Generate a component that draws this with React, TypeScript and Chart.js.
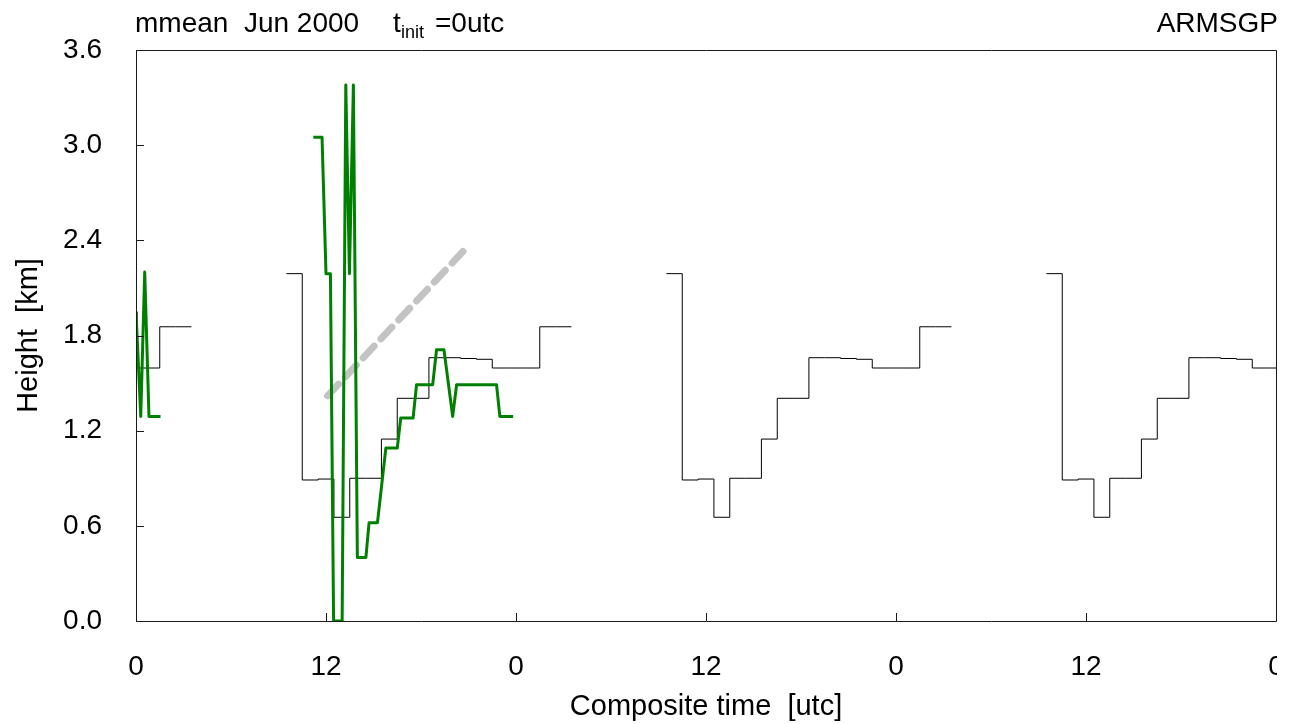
import React, { useEffect, useRef } from "react";
import { Chart, registerables } from "chart.js";

Chart.register(...registerables);

// ---- tick labels ----
const xTickHours = [0, 12, 24, 36, 48, 60, 72];
const xTickLabels = ["0", "12", "0", "12", "0", "12", "0"];
const yTicks = [0, 0.6, 1.2, 1.8, 2.4, 3.0, 3.6];

// ---- composite diurnal cycle (black step line), hour of composite -> height [km] ----
const cycleHours = [10, 11, 12, 13, 14, 15, 16, 17, 18, 19, 20, 21, 22, 23, 24, 25, 26, 27];
const compositeHeight = [
  2.19, 0.889, 0.895, 0.654, 0.9, 0.9, 1.147, 1.404, 1.404, 1.66, 1.66, 1.655, 1.65, 1.595,
  1.595, 1.595, 1.855, 1.855,
];
const cycleOffsets = [-24, 0, 24, 48];

// short opening segment of the black line at t = 0
const leadTimes = [0.05, 0.05];
const leadHeights = [1.95, 1.595];

// ---- model (green) ----
const greenEarlyTimes = [0, 0.3, 0.55, 0.82, 1.55];
const greenEarlyHeights = [1.95, 1.29, 2.2, 1.29, 1.29];

const greenTimes = [
  11.2, 11.75, 12.0, 12.28, 12.48, 13.02, 13.25, 13.48, 13.73, 13.98, 14.52, 14.72, 15.25,
  15.78, 16.5, 16.72, 17.5, 17.72, 18.74, 18.98, 19.45, 20.0, 20.25, 22.77, 22.98, 23.82,
];
const greenHeights = [
  3.05, 3.05, 2.19, 2.19, 0.0, 0.0, 3.38, 2.19, 3.38, 0.4, 0.4, 0.62, 0.62, 1.09, 1.09, 1.28,
  1.28, 1.49, 1.49, 1.71, 1.71, 1.29, 1.49, 1.49, 1.29, 1.29,
];

// ---- grey dashed trend ----
const trendTimes = [12.1, 20.65];
const trendHeights = [1.42, 2.33];

const FONT = "'Liberation Sans', Arial, Helvetica, sans-serif";

const pts = (xs: number[], ys: number[]) => xs.map((x, i) => ({ x, y: ys[i] }));

const cyclePoints = (offset: number) => {
  const p = cycleHours.map((h, i) => ({ x: h + offset - 0.5, y: compositeHeight[i] }));
  const last = cycleHours.length - 1;
  p.push({ x: cycleHours[last] + offset + 0.5, y: compositeHeight[last] });
  return p;
};

const decorPlugin = {
  id: "decor",
  afterDraw(chart: any) {
    const { ctx, chartArea: a, scales } = chart;
    ctx.save();
    // the plot is cut at its right edge: hide what lies beyond it under the axis
    ctx.fillStyle = "#ffffff";
    ctx.fillRect(a.right + 1, a.bottom + 3, chart.width - a.right, 70);

    // frame
    ctx.strokeStyle = "#1a1a1a";
    ctx.lineWidth = 1;
    ctx.beginPath();
    ctx.moveTo(a.left + 0.5, a.top + 0.5);
    ctx.lineTo(a.right + 0.5, a.top + 0.5);
    ctx.lineTo(a.right + 0.5, a.bottom + 0.5);
    ctx.lineTo(a.left + 0.5, a.bottom + 0.5);
    ctx.closePath();
    ctx.stroke();

    // inward tick marks
    ctx.beginPath();
    for (const v of xTickHours) {
      const px = Math.round(scales.x.getPixelForValue(v)) + 0.5;
      ctx.moveTo(px, a.bottom);
      ctx.lineTo(px, a.bottom - 8);
    }
    for (const v of yTicks) {
      const py = Math.round(scales.y.getPixelForValue(v)) + 0.5;
      ctx.moveTo(a.left, py);
      ctx.lineTo(a.left + 8, py);
    }
    ctx.stroke();

    // header texts
    ctx.fillStyle = "#000";
    ctx.textBaseline = "alphabetic";
    ctx.textAlign = "left";
    ctx.font = `28px ${FONT}`;
    ctx.fillText("mmean  Jun 2000", 135, 32);
    ctx.fillText("t", 393, 32);
    ctx.font = `18px ${FONT}`;
    ctx.fillText("init", 401, 38);
    ctx.font = `28px ${FONT}`;
    ctx.fillText("=0utc", 435, 32);
    ctx.textAlign = "right";
    ctx.fillText("ARMSGP", 1278, 32);
    ctx.restore();
  },
};

export default function App() {
  const ref = useRef<HTMLCanvasElement>(null);

  useEffect(() => {
    const canvas = ref.current;
    if (!canvas) return;

    const datasets: any[] = [
      {
        label: "model early",
        data: pts(greenEarlyTimes, greenEarlyHeights),
        borderColor: "rgb(0,128,0)",
        borderWidth: 3,
        borderJoinStyle: "round",
        pointRadius: 0,
      },
      {
        label: "model",
        data: pts(greenTimes, greenHeights),
        borderColor: "rgb(0,128,0)",
        borderWidth: 3,
        borderJoinStyle: "round",
        pointRadius: 0,
      },
      {
        label: "lead",
        data: pts(leadTimes, leadHeights),
        borderColor: "#000",
        borderWidth: 1,
        pointRadius: 0,
      },
      ...cycleOffsets.map((off) => ({
        label: `composite ${off}`,
        data: cyclePoints(off),
        borderColor: "#000",
        borderWidth: 1,
        stepped: "before",
        pointRadius: 0,
      })),
      {
        label: "trend",
        data: pts(trendTimes, trendHeights),
        borderColor: "#c3c3c3",
        borderWidth: 7,
        borderDash: [16, 10],
        borderCapStyle: "round",
        pointRadius: 0,
      },
    ];

    const chart = new Chart(canvas, {
      type: "line",
      data: { datasets },
      options: {
        animation: false,
        responsive: false,
        devicePixelRatio: 1,
        parsing: false as any,
        normalized: true,
        layout: { padding: { top: 50, right: 20, left: 0, bottom: 0 } },
        plugins: {
          legend: { display: false },
          tooltip: { enabled: false },
          title: { display: false },
        },
        elements: { point: { radius: 0 }, line: { tension: 0, fill: false } },
        scales: {
          x: {
            type: "linear",
            min: 0,
            max: 72,
            afterBuildTicks: (s: any) => {
              s.ticks = xTickHours.map((v) => ({ value: v }));
            },
            afterFit: (s: any) => {
              s.height = 103;
              s.paddingLeft = 0;
              s.paddingRight = 0;
            },
            ticks: {
              autoSkip: false,
              maxRotation: 0,
              minRotation: 0,
              padding: 29,
              color: "#000",
              font: { family: FONT, size: 28 },
              callback: (v: any) => {
                const i = xTickHours.indexOf(Number(v));
                return i >= 0 ? xTickLabels[i] : "";
              },
            },
            grid: { display: false, drawTicks: false },
            border: { display: false },
            title: {
              display: true,
              text: "Composite time  [utc]",
              color: "#000",
              font: { family: FONT, size: 29 },
              padding: { top: 0, bottom: 0 },
            },
          },
          y: {
            type: "linear",
            min: 0,
            max: 3.6,
            afterBuildTicks: (s: any) => {
              s.ticks = yTicks.map((v) => ({ value: v }));
            },
            afterFit: (s: any) => {
              s.width = 136;
              s.paddingTop = 0;
              s.paddingBottom = 0;
            },
            ticks: {
              padding: 34,
              color: "#000",
              font: { family: FONT, size: 28 },
              callback: (v: any) => Number(v).toFixed(1),
            },
            grid: { display: false, drawTicks: false },
            border: { display: false },
            title: {
              display: true,
              text: "Height  [km]",
              color: "#000",
              font: { family: FONT, size: 29 },
              padding: { top: 12, bottom: 0 },
            },
          },
        },
      },
      plugins: [decorPlugin],
    });

    return () => chart.destroy();
  }, []);

  return (
    <div
      style={{
        position: "absolute",
        left: 0,
        top: 0,
        width: 1296,
        height: 724,
        background: "#fff",
      }}
    >
      <canvas ref={ref} width={1296} height={724} style={{ display: "block" }} />
    </div>
  );
}
